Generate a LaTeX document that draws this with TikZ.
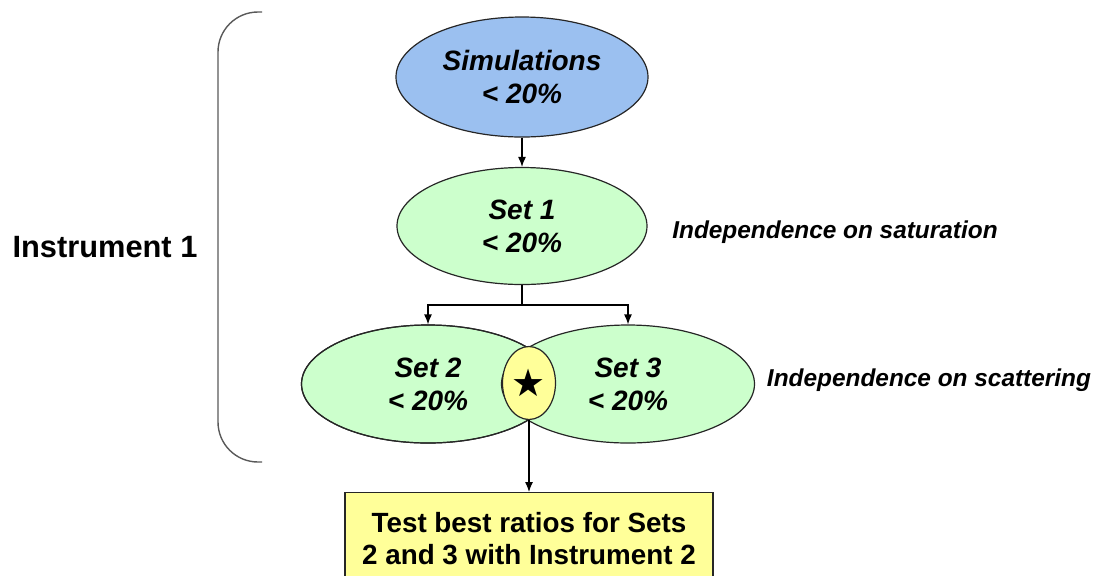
\documentclass[tikz,border=0pt]{standalone}
\usepackage{fontspec}
\setmainfont{Liberation Sans}
\newfontfamily\symfont{DejaVu Sans}
\usetikzlibrary{shapes.geometric,arrows.meta}
\definecolor{simblue}{RGB}{155,192,240}
\definecolor{setgreen}{RGB}{204,255,204}
\definecolor{noteyellow}{RGB}{255,255,153}
\tikzset{
  oval/.style={ellipse, draw=black!85, line width=0.6pt, inner sep=0pt, align=center,
    font=\fontsize{14}{16.5}\selectfont\bfseries\itshape},
  note/.style={font=\fontsize{12.2}{14}\selectfont\bfseries\itshape},
  link/.style={line width=0.6pt, -{Latex[length=5pt,width=4pt]}}
}
\begin{document}
\begin{tikzpicture}[x=0.5pt, y=-0.5pt]
    \useasboundingbox (0,0) rectangle (1099,575);
    % flow
    \node[oval, fill=simblue, minimum width=126pt, minimum height=60pt] (sim) at (522,77){Simulations\\ < 20\%};
    \node[oval, fill=setgreen, minimum width=125pt, minimum height=58.5pt] (set1) at (522,226){Set 1\\ < 20\%};
    \node[oval, fill=setgreen, minimum width=126.5pt, minimum height=59pt] (set2) at (428,384){Set 2\\ < 20\%};
    \node[oval, fill=setgreen, minimum width=126.5pt, minimum height=59pt] (set3) at (628,384){Set 3\\ < 20\%};
    \draw[draw=black!85, line width=0.6pt] (428,384) ellipse (63.25pt and 29.5pt);
    \node[oval, fill=noteyellow, minimum width=26.5pt, minimum height=36.5pt, font=\fontsize{19}{19}\selectfont\symfont] (star) at (529,383){★};
    \node[draw=black!85, line width=0.6pt, fill=noteyellow, minimum width=184pt, minimum height=46pt, align=center,
      font=\fontsize{13.9}{16}\selectfont\bfseries, anchor=north] (test) at (529,492){Test best ratios for Sets\\ 2 and 3 with Instrument 2};
    \coordinate (split) at (522,305);
    \draw[link] (sim) -- (set1);
    \draw[line width=0.6pt] (set1) -- (split);
    \draw[link] (split) -| (set2.north);
    \draw[link] (split) -| (set3.north);
    \draw[link] (star.south) -- (star.south |- test.north);
    % notes
    \node[note] (sat) at (835,232){Independence on saturation};
    \node[note] (scat) at (929,380){Independence on scattering};
    \node[font=\fontsize{15.4}{18}\selectfont\bfseries] (inst) at (105,247){Instrument 1};
    % bracket
    \draw[black!65, line width=0.7pt, rounded corners=20pt] (262,12) -- (218,12) -- (218,462) -- (262,462);
  \end{tikzpicture}
\end{document}
